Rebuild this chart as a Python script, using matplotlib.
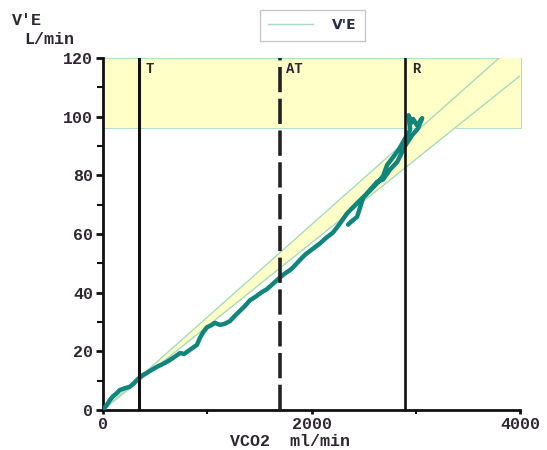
import matplotlib
matplotlib.use("Agg")
import matplotlib.pyplot as plt
from matplotlib.lines import Line2D
from matplotlib.ticker import MultipleLocator

# ---- data ----
vco2 = [0, 40, 70, 96, 130, 163, 210, 259, 300, 326, 350, 384, 420, 460, 518, 560, 614,
        680, 739, 780, 806, 850, 902, 931, 960, 998, 1040, 1074, 1122, 1170, 1218, 1260,
        1314, 1360, 1410, 1460, 1520, 1573, 1630, 1698, 1740, 1790, 1823, 1890, 1940,
        2014, 2082, 2130, 2206, 2273, 2340, 2436, 2532, 2628, 2686, 2724, 2782, 2840,
        2897, 2945, 2930, 2960, 2974, 3012, 3060, 3020, 2960,
        2900, 2820, 2753, 2686, 2628, 2561, 2494, 2465, 2436, 2380, 2350]
ve = [0, 1.8, 3.5, 4.6, 5.6, 6.8, 7.4, 7.9, 9.2, 10.2, 10.9, 11.9, 12.6, 13.5, 14.7, 15.4,
      16.4, 17.9, 19.4, 19.1, 19.8, 20.9, 22.2, 24.6, 26.4, 28.2, 28.9, 29.7, 29.0, 29.4,
      30.3, 31.9, 33.8, 35.4, 37.4, 38.5, 40.1, 41.2, 43.0, 45.2, 46.4, 47.6, 48.6, 51.2,
      53.0, 55.0, 56.8, 58.4, 60.5, 63.6, 67.0, 70.5, 73.8, 77.3, 79.8, 83.5, 86.2, 89.0,
      92.6, 95.5, 100.5, 98.0, 99.2, 97.0, 99.5, 96.0, 93.5,
      90.2, 84.5, 82.0, 78.6, 77.8, 75.0, 72.3, 69.0, 65.8, 64.2, 63.2]

markers = ["T", "AT", "R"]
marker_x = [350, 1700, 2900]
marker_style = ["-", "--", "-"]

band_low, band_high = 96, 120          # highlighted V'E range
fit_x = [0, 4000]
fit_upper = [0, 126.4]                  # upper regression bound
fit_lower = [0, 114.0]                  # lower regression bound

x_ticks = [0, 2000, 4000]
y_ticks = [0, 20, 40, 60, 80, 100, 120]

# ---- style ----
yellow = "#FFFFC8"
lightgreen = "#A6DBBE"
teal = "#0F857C"
txtcol = "#2e2630"
mono = ["Liberation Mono", "DejaVu Sans Mono"]

fig = plt.figure(figsize=(5.47, 4.5), dpi=100)
ax = fig.add_axes([0.188, 0.089, 0.763, 0.782])

ax.set_xlim(0, 4000)
ax.set_ylim(0, 120)

ax.axhspan(band_low, band_high, xmin=0, xmax=1.003, facecolor=yellow, edgecolor=lightgreen,
           lw=0.6, zorder=0, clip_on=False)
ax.fill_between(fit_x, fit_lower, fit_upper, color=yellow, lw=0, zorder=0.5)
ax.plot(fit_x, fit_upper, color=lightgreen, lw=1.0, zorder=1)
ax.plot(fit_x, fit_lower, color=lightgreen, lw=1.0, zorder=1)

ax.plot(vco2, ve, color=teal, lw=3.2, solid_joinstyle="round", solid_capstyle="round", zorder=3)

for name, xv, ls in zip(markers, marker_x, marker_style):
    if ls == "--":
        ax.plot([xv, xv], [0, 120], color="#222222", lw=2.6, ls=(0, (7, 1.8)), zorder=4)
    else:
        ax.plot([xv, xv], [0, 120], color="#111111", lw=2.2 if xv < 1000 else 1.9, zorder=4)
    ax.text(xv + 60, 118.8, name, family=mono, fontweight="bold", fontsize=10,
            color=txtcol, va="top", ha="left", zorder=5)

for s in ["top", "right"]:
    ax.spines[s].set_visible(False)
for s in ["left", "bottom"]:
    ax.spines[s].set_linewidth(2.0)
    ax.spines[s].set_color("#111111")

ax.set_xticks(x_ticks)
ax.set_yticks(y_ticks)
ax.xaxis.set_minor_locator(MultipleLocator(1000))
ax.yaxis.set_minor_locator(MultipleLocator(10))
ax.tick_params(which="major", length=5, width=2, color="#111111", pad=2)
ax.tick_params(which="minor", length=4, width=1.5, color="#111111")
ax.tick_params(axis="x", which="both", length=3)
for lab in ax.get_xticklabels() + ax.get_yticklabels():
    lab.set_family(mono)
    lab.set_fontweight("bold")
    lab.set_fontsize(12)
    lab.set_color(txtcol)

fig.text(0.022, 0.955, "V'E", family=mono, fontweight="bold", fontsize=12, color=txtcol, va="center")
fig.text(0.045, 0.912, "L/min", family=mono, fontweight="bold", fontsize=12, color=txtcol, va="center")
fig.text(0.42, 0.018, "VCO2  ml/min", family=mono, fontweight="bold", fontsize=12, color=txtcol, va="center")

handle = Line2D([], [], color=lightgreen, lw=1.0)
leg = fig.legend([handle], ["V'E"], loc="center", bbox_to_anchor=(0.571, 0.944),
                 frameon=True, fancybox=False, edgecolor="#bbbbbb", handlelength=3.2,
                 prop={"family": "DejaVu Sans", "weight": "bold", "size": 10},
                 borderpad=0.6, handletextpad=1.4, borderaxespad=0)
leg.get_frame().set_linewidth(1.0)
for t in leg.get_texts():
    t.set_color("#2a2a4a")

fig.savefig("out.png", dpi=100)
